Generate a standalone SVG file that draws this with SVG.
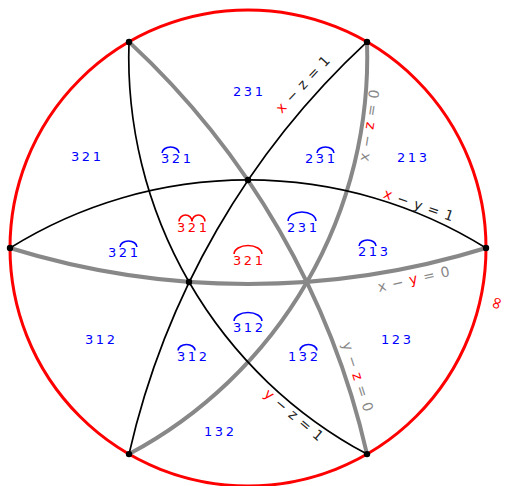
<svg xmlns="http://www.w3.org/2000/svg" width="509" height="486" viewBox="0 0 509 486">
<style>
.bg{fill:#fff}
.circ{fill:none;stroke:#ff0000;stroke-width:3}
.g{fill:none;stroke:#888;stroke-width:4}
.k{fill:none;stroke:#000;stroke-width:1.7}
.dot{fill:#000}
.lb{font-family:"DejaVu Sans",sans-serif;font-size:13px;letter-spacing:2.6px;fill:#0000ff}
.lr{font-family:"DejaVu Sans",sans-serif;font-size:13px;letter-spacing:2.6px;fill:#ff0000}
.hb{fill:none;stroke:#0000ff;stroke-width:1.6}
.hr{fill:none;stroke:#ff0000;stroke-width:1.6}
.eqk{font-family:"DejaVu Sans",sans-serif;font-size:14px;letter-spacing:0.8px;fill:#222}
.eqg{font-family:"DejaVu Sans",sans-serif;font-size:14px;letter-spacing:0.8px;fill:#888}
.inf{font-family:"DejaVu Sans",sans-serif;font-size:17px;fill:#ff0000}
.red{fill:#ff0000}
</style>
<rect class="bg" x="0" y="0" width="509" height="486"/>
<circle class="circ" cx="248" cy="248" r="238"/>
<g id="connectors">
<path id="xy0" class="g" d="M10 248 A805 805 0 0 0 486 248"/>
<path id="xz0" class="g" d="M367 41.9 A450 450 0 0 1 129 454.1"/>
<path id="yz0" class="g" d="M129 41.9 A805 805 0 0 1 367 454.1"/>
<path id="xy1" class="k" d="M10 248 A450 450 0 0 1 486 248"/>
<path id="xz1" class="k" d="M367 41.9 A805 805 0 0 0 129 454.1"/>
<path id="yz1" class="k" d="M129 41.9 A450 450 0 0 0 367 454.1"/>
</g>
<g id="vertices">
<circle class="dot" cx="129" cy="41.9" r="3.2"/>
<circle class="dot" cx="367" cy="41.9" r="3.2"/>
<circle class="dot" cx="486" cy="248" r="3.2"/>
<circle class="dot" cx="367" cy="454.1" r="3.2"/>
<circle class="dot" cx="129" cy="454.1" r="3.2"/>
<circle class="dot" cx="10" cy="248" r="3.2"/>
<circle class="dot" cx="248" cy="180" r="3.2"/>
<circle class="dot" cx="189" cy="282" r="3.2"/>
</g>
<g id="r231"><text class="lb" x="233" y="96">231</text></g>
<g id="r321"><text class="lb" x="71" y="161">321</text></g>
<g id="r213"><text class="lb" x="397" y="162">213</text></g>
<g id="r312"><text class="lb" x="85" y="344">312</text></g>
<g id="r123"><text class="lb" x="381" y="344">123</text></g>
<g id="r132"><text class="lb" x="204" y="436">132</text></g>
<g id="c321a"><text class="lb" x="161" y="163">321</text><path class="hb" d="M162.1 153 A8.45 6 0 0 1 179 153"/></g>
<g id="c231a"><text class="lb" x="305" y="163">231</text><path class="hb" d="M317 153 A8.45 6 0 0 1 333.9 153"/></g>
<g id="c321red2"><text class="lr" x="177" y="232">321</text><path class="hr" d="M179.1 221.5 A6.45 6.5 0 0 1 192 221.5 A6.45 6.5 0 0 1 204.9 221.5"/></g>
<g id="c321red"><text class="lr" x="233" y="265">321</text><path class="hr" d="M234.1 254 A13.9 8.5 0 0 1 261.9 254"/></g>
<g id="c231b"><text class="lb" x="287" y="232">231</text><path class="hb" d="M288.1 221 A13.9 9 0 0 1 315.9 221"/></g>
<g id="c213"><text class="lb" x="358" y="256">213</text><path class="hb" d="M359.1 246 A8.45 6 0 0 1 376 246"/></g>
<g id="c321b"><text class="lb" x="108" y="257">321</text><path class="hb" d="M120 247 A8.45 6 0 0 1 136.9 247"/></g>
<g id="c312a"><text class="lb" x="177" y="361">312</text><path class="hb" d="M178.1 350.5 A8.45 6 0 0 1 195 350.5"/></g>
<g id="c312b"><text class="lb" x="233" y="332">312</text><path class="hb" d="M234.1 321 A13.9 8.5 0 0 1 261.9 321"/></g>
<g id="c132"><text class="lb" x="288" y="361">132</text><path class="hb" d="M300 350.5 A8.45 6 0 0 1 316.9 350.5"/></g>
<g id="eq-xz1"><text class="eqk" text-anchor="middle" dy="0.35em" transform="translate(303 84) rotate(-47)"><tspan class="red">x</tspan> − z = 1</text></g>
<g id="eq-xz0"><text class="eqg" text-anchor="middle" dy="0.35em" transform="translate(369 125) rotate(-81)">x − <tspan class="red">z</tspan> = 0</text></g>
<g id="eq-xy1"><text class="eqk" text-anchor="middle" dy="0.35em" transform="translate(419 205) rotate(19)"><tspan class="red">x</tspan> − y = 1</text></g>
<g id="eq-xy0"><text class="eqg" text-anchor="middle" dy="0.35em" transform="translate(414 279) rotate(-13)">x − <tspan class="red">y</tspan> = 0</text></g>
<g id="eq-yz0"><text class="eqg" text-anchor="middle" dy="0.35em" transform="translate(358 377) rotate(72)">y − <tspan class="red">z</tspan> = 0</text></g>
<g id="eq-yz1"><text class="eqk" text-anchor="middle" dy="0.35em" transform="translate(294 415) rotate(40)"><tspan class="red">y</tspan> − z = 1</text></g>
<g id="inf"><text class="inf" text-anchor="middle" dy="0.35em" transform="translate(496 303) rotate(-72)">∞</text></g>
</svg>
